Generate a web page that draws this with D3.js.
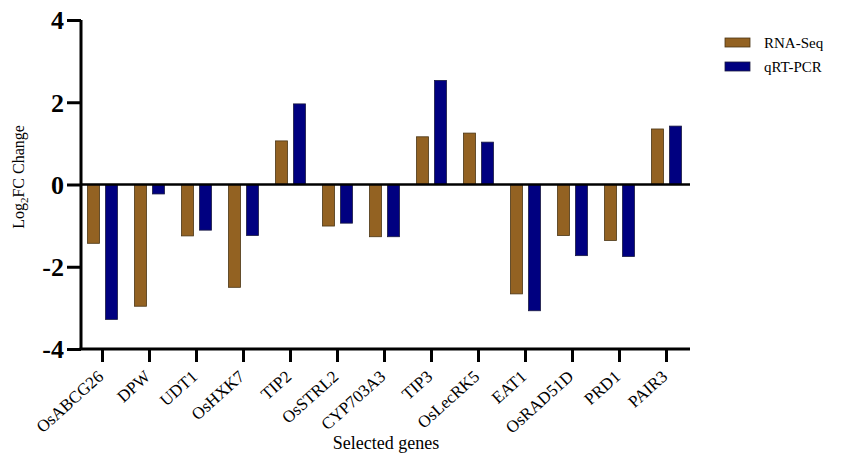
<!DOCTYPE html>
<html>
<head>
<meta charset="utf-8">
<script src="https://cdn.jsdelivr.net/npm/d3@7"></script>
<style>
  body { margin: 0; background: #fff; }
  svg text { font-family: "Liberation Serif", "Times New Roman", Times, serif !important; }
</style>
</head>
<body>
<div id="chart"></div>
<script>
// data
const genes = ['OsABCG26', 'DPW', 'UDT1', 'OsHXK7', 'TIP2', 'OsSTRL2', 'CYP703A3',
    'TIP3', 'OsLecRK5', 'EAT1', 'OsRAD51D', 'PRD1', 'PAIR3'];
const rnaSeq = [-1.43, -2.96, -1.25, -2.50, 1.06, -1.01, -1.27, 1.16, 1.25, -2.66, -1.24, -1.36, 1.35];
const qrtPcr = [-3.28, -0.23, -1.11, -1.24, 1.96, -0.94, -1.27, 2.53, 1.03, -3.07, -1.73, -1.75, 1.42];
const seriesNames = ['RNA-Seq', 'qRT-PCR'];
const yTicks = [-4, -2, 0, 2, 4];

const width = 843;
const height = 454;
const colors = ['#936222', '#000080'];

let margin = { top: 20, right: 153, bottom: 105, left: 81 };

const svg = d3.select('#chart')
    .append('svg')
    .attr('width', width)
    .attr('height', height);

let x = d3.scaleBand()
    .domain(genes)
    .range([margin.left - 2, width - margin.right])
    .paddingInner(0)
    .paddingOuter(0);

let y = d3.scaleLinear()
    .domain([-4, 4])
    .range([height - margin.bottom, margin.top]);

const barW = 12;
const gap = 6;
let offsets = [-(gap / 2 + barW), gap / 2];

let table = genes.map((g, i) => ({ gene: g, values: [rnaSeq[i], qrtPcr[i]] }));

// bars
seriesNames.forEach((s, si) => {
    svg.append('g')
        .selectAll('rect')
        .data(table)
        .enter()
        .append('rect')
        .attr('x', d => x(d.gene) + x.bandwidth() / 2 + offsets[si])
        .attr('y', d => y(Math.max(0, d.values[si])))
        .attr('width', barW)
        .attr('height', d => Math.abs(y(d.values[si]) - y(0)))
        .attr('fill', colors[si])
        .attr('stroke', si === 0 ? '#4a3515' : '#1a1a40')
        .attr('stroke-width', 0.8);
});

// zero line
svg.append('line')
    .attr('x1', margin.left)
    .attr('x2', width - margin.right)
    .attr('y1', y(0))
    .attr('y2', y(0))
    .attr('stroke', '#000')
    .attr('stroke-width', 2.5);

// y axis
let yAxis = svg.append('g')
    .attr('transform', `translate(${margin.left},0)`)
    .call(d3.axisLeft(y).tickValues(yTicks).tickSize(14).tickPadding(3).tickFormat(d3.format('d')));
yAxis.select('.domain').attr('stroke-width', 3).attr('d', `M0,${y(4)}V${y(-4)}`);
yAxis.selectAll('.tick line').attr('stroke-width', 3);
yAxis.selectAll('.tick text')
    .attr('font-size', 26)
    .attr('font-weight', 'bold')
    .attr('fill', '#000')
    .attr('dy', '0.34em')
    .text(d => d < 0 ? '-' + Math.abs(d) : d);

// x axis
let xAxis = svg.append('g')
    .attr('transform', `translate(0,${y(-4)})`)
    .call(d3.axisBottom(x).tickSize(13).tickSizeOuter(0));
xAxis.select('.domain').attr('stroke-width', 3).attr('d', `M${margin.left - 1.5},0H${width - margin.right}`);
xAxis.selectAll('.tick line').attr('stroke-width', 3);
xAxis.selectAll('.tick text')
    .attr('font-size', 17)
    .attr('fill', '#000')
    .attr('text-anchor', 'end')
    .attr('x', 0)
    .attr('y', 0)
    .attr('dy', 0)
    .attr('transform', 'translate(2,29) rotate(-42)');

// axis titles
svg.append('text')
    .attr('x', 386)
    .attr('y', 449)
    .attr('text-anchor', 'middle')
    .attr('font-size', 18)
    .text('Selected genes');

let yTitle = svg.append('text')
    .attr('transform', 'translate(24,177) rotate(-90)')
    .attr('text-anchor', 'middle')
    .attr('font-size', 16);
yTitle.append('tspan').text('Log');
yTitle.append('tspan').attr('font-size', 11).attr('dy', 4).text('2');
yTitle.append('tspan').attr('dy', -4).text('FC Change');

// legend
let legend = svg.append('g')
    .attr('transform', 'translate(725,38)');
seriesNames.forEach((s, i) => {
    legend.append('rect')
        .attr('x', 0)
        .attr('y', i * 24)
        .attr('width', 25)
        .attr('height', 9)
        .attr('fill', colors[i])
        .attr('stroke', i === 0 ? '#4a3515' : '#1a1a40')
        .attr('stroke-width', 0.8);
    legend.append('text')
        .attr('x', 39)
        .attr('y', i * 24 + 10)
        .attr('font-size', 15)
        .text(s);
});
</script>
</body>
</html>
